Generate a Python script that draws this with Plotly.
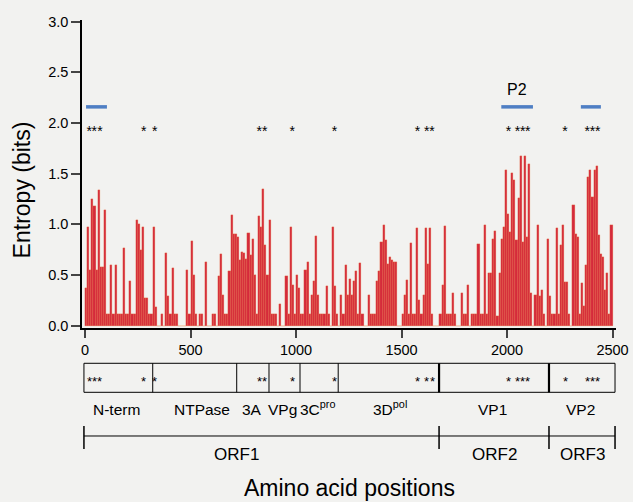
import plotly.graph_objects as go

# ---- data ----
bin_width = 10
entropy = [
    0.37, 0.97, 0.55, 1.25, 1.18, 0.55, 1.34, 0.58, 0.58, 1.14, 0.12, 0.12, 0.60, 0.12, 0.60, 0.12, 0.12, 0.12, 0.77, 0.12, 0.12, 0.44, 0.12, 0.12, 1.04,
    1.00, 0.75, 0.97, 0.27, 0.27, 0.12, 0.12, 0.97, 0.19, 0, 0, 0.12, 0, 0.72, 0.29, 0.12, 0.57, 0.12, 0.12, 0, 0, 0, 0, 0.55, 0.12,
    0.84, 0.50, 0.12, 0, 0.12, 0.12, 0, 0.63, 0, 0, 0.12, 0.12, 0, 0.49, 0.71, 0.30, 0.12, 0.12, 0.54, 1.09, 0.91, 0.91, 0.88, 0.65, 0.73,
    0.72, 0.66, 0.92, 0.70, 0.86, 0.50, 0.12, 1.08, 0.97, 1.35, 0.80, 0.50, 1.04, 0.12, 0.12, 0.12, 0, 0.21, 0, 0, 0.49, 0.12, 0.97, 0.40, 0.12,
    0.50, 0.37, 0.12, 0.12, 0.55, 0.63, 0.12, 0.30, 0.44, 0.89, 0.30, 0.12, 0.12, 0.12, 0.39, 0.12, 0, 0.97, 0.39, 0.12, 0, 0.30, 0.12, 0.60, 0.30,
    0.46, 0.30, 0.44, 0.54, 0.12, 0.62, 0.12, 0, 0, 0.30, 0.12, 0.12, 0.12, 0.44, 0.54, 0.83, 0.99, 0.85, 0.61, 0.68, 0.65, 0.63, 0.63, 0, 0,
    0.12, 0.30, 0.45, 0.12, 0.82, 0.12, 0.12, 0.96, 0.25, 0.12, 0.30, 0.96, 0.61, 0.96, 0.12, 0, 0, 0, 0.12, 0.40, 0.98, 0.12, 0.12, 0.12, 0.32,
    0.12, 0, 0, 0.32, 0.12, 0.12, 0.40, 0, 0.12, 0.12, 0.12, 0.81, 0.12, 0.12, 0.99, 0.12, 0.52, 0.52, 0.86, 0.94, 0.10, 0.52, 0.86, 0.97, 1.54,
    1.10, 0.93, 1.51, 1.44, 0.85, 1.26, 1.68, 0.83, 1.68, 0.88, 1.60, 0.32, 0, 0.30, 0.99, 0.29, 0.35, 0.12, 0, 0.86, 0.29, 0.12, 0.12, 0.96, 0.12,
    0.80, 0.99, 0.43, 0.43, 0.12, 0, 1.19, 0.91, 0.88, 0.12, 0.42, 0.20, 0.60, 1.47, 1.54, 1.27, 1.54, 1.58, 0.90, 0.71, 0.68, 0.35, 0.52, 0.12, 0.99,
]
positions = [bin_width * i + bin_width / 2 for i in range(len(entropy))]

star_positions = [20, 44, 71, 278, 330, 826, 852, 982, 1182, 1576, 1619, 1645,
                  2007, 2050, 2074, 2098, 2275, 2380, 2405, 2430]
star_level = 1.91

epitope_start = [5, 1973, 2350]
epitope_end = [104, 2123, 2445]
epitope_level = 2.16
epitope_label = "P2"

region_bounds = [-5, 321, 719, 872, 1019, 1200, 1678, 2199, 2512]
region_names = ["N-term", "NTPase", "3A", "VPg", "3C<sup>pro</sup>", "3D<sup>pol</sup>", "VP1", "VP2"]
region_label_x = [150, 553, 791, 938, 1104, 1445, 1929, 2346]

orf_bounds = [-5, 1678, 2199, 2512]
orf_names = ["ORF1", "ORF2", "ORF3"]
orf_label_x = [720, 1943, 2360]

x_ticks = [0, 500, 1000, 1500, 2000, 2500]
y_ticks = [0, 0.5, 1.0, 1.5, 2.0, 2.5, 3.0]

FONT = "Liberation Sans, Arial, Helvetica, sans-serif"
BG = "#f2f2f0"

fig = go.Figure()

fig.add_trace(go.Bar(
    x=positions, y=entropy, width=bin_width,
    marker=dict(color="#d52a3c", line=dict(color="rgba(240,130,60,0.85)", width=0.3)),
    showlegend=False, hoverinfo="x+y",
))

# epitope bars
ex, ey = [], []
for s, e in zip(epitope_start, epitope_end):
    ex += [s, e, None]
    ey += [epitope_level, epitope_level, None]
fig.add_trace(go.Scatter(x=ex, y=ey, mode="lines",
                         line=dict(color="#4f7fc4", width=3.5),
                         showlegend=False, hoverinfo="skip"))

# asterisks above the profile
fig.add_trace(go.Scatter(x=star_positions, y=[star_level] * len(star_positions),
                         mode="text", text=["*"] * len(star_positions),
                         textfont=dict(size=14, color="black", family=FONT),
                         showlegend=False, hoverinfo="skip", cliponaxis=False))

fig.add_annotation(x=(epitope_start[1] + epitope_end[1]) / 2, y=epitope_level + 0.17,
                   text=epitope_label, showarrow=False, yanchor="middle",
                   font=dict(size=16, color="black", family=FONT))

# ---- genome map under the axis (paper y) ----
y_top, y_bot = -0.1146, -0.2088
shapes = [dict(type="rect", xref="x", yref="paper", x0=region_bounds[0], x1=region_bounds[-1],
               y0=y_bot, y1=y_top, line=dict(color="black", width=1))]
for b in region_bounds[1:-1]:
    w = 2.2 if b in orf_bounds else 1
    shapes.append(dict(type="line", xref="x", yref="paper", x0=b, x1=b, y0=y_bot, y1=y_top,
                       line=dict(color="black", width=w)))

orf_y = -0.3506
shapes.append(dict(type="line", xref="x", yref="paper", x0=orf_bounds[0], x1=orf_bounds[-1],
                   y0=orf_y, y1=orf_y, line=dict(color="black", width=1)))
for b in orf_bounds:
    shapes.append(dict(type="line", xref="x", yref="paper", x0=b, x1=b, y0=-0.318, y1=-0.393,
                       line=dict(color="black", width=1.5)))
fig.update_layout(shapes=shapes)

for s in star_positions:
    fig.add_annotation(x=s, y=-0.1753, xref="x", yref="paper", text="*", showarrow=False,
                       xanchor="center", yanchor="middle",
                       font=dict(size=13, color="black", family=FONT))

for name, xc in zip(region_names, region_label_x):
    fig.add_annotation(x=xc, y=-0.3003, xref="x", yref="paper", text=name, showarrow=False,
                       xanchor="center", yanchor="bottom",
                       font=dict(size=15.5, color="black", family=FONT))
for name, xc in zip(orf_names, orf_label_x):
    fig.add_annotation(x=xc, y=-0.412, xref="x", yref="paper", text=name, showarrow=False,
                       xanchor="center", yanchor="middle",
                       font=dict(size=17, color="black", family=FONT))

fig.add_annotation(x=0.5, y=-0.519, xref="paper", yref="paper", text="Amino acid positions",
                   showarrow=False, xanchor="center", yanchor="middle",
                   font=dict(size=23, color="black", family=FONT))
fig.add_annotation(x=-0.1124, y=0.45, xref="paper", yref="paper", text="Entropy (bits)",
                   textangle=-90, showarrow=False, xanchor="center", yanchor="middle",
                   font=dict(size=23, color="black", family=FONT))

fig.update_layout(
    width=633, height=502,
    margin=dict(l=82, r=17, t=20, b=174, autoexpand=False),
    paper_bgcolor=BG, plot_bgcolor=BG,
    bargap=0,
    font=dict(family=FONT, color="black"),
    xaxis=dict(range=[-14.2, 2516.6], tickvals=x_ticks, ticks="outside", ticklen=8, tickwidth=1.5,
               showline=True, linewidth=1.5, linecolor="black", showgrid=False, zeroline=False,
               tickfont=dict(size=14.5), automargin=False),
    yaxis=dict(range=[-0.022, 3.017], tickvals=y_ticks, tickformat=".1f",
               ticks="outside", ticklen=9, tickwidth=1.5, showline=True, linewidth=1.5,
               linecolor="black", showgrid=False, zeroline=False, tickfont=dict(size=14.5),
               automargin=False),
)

fig.write_html("out.html", config={"displayModeBar": False},
               post_script="document.body.style.margin='0';document.body.style.background='%s';" % BG)
